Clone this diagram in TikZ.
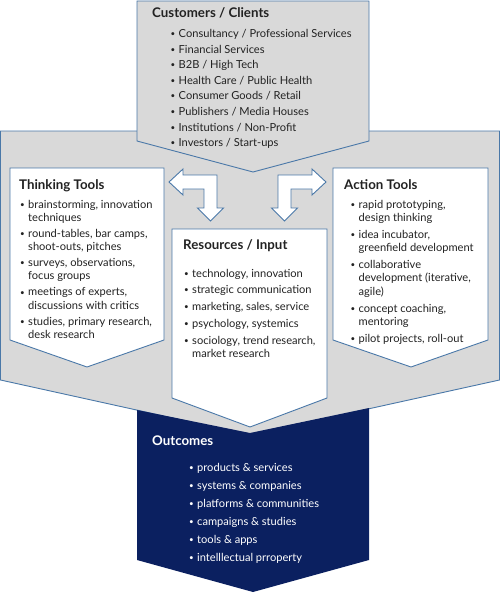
\documentclass[tikz,border=0pt]{standalone}
\usepackage{fontspec}
\setmainfont{Lato}
\definecolor{boxgray}{HTML}{D9D9D9}
\definecolor{edgeblue}{HTML}{4A78A8}
\definecolor{navy}{HTML}{0B2060}
\definecolor{txt}{HTML}{222222}
\newcommand{\bl}{\raisebox{0.9pt}{\fontsize{8}{8}\selectfont\textbullet}}
\newcommand{\rows}[1]{\begin{tabular}[t]{@{}p{8pt}@{}l@{}}#1\end{tabular}}

\begin{document}
\begin{tikzpicture}[
  x=1pt, y=-1pt,
  panel/.style={fill=boxgray,draw=edgeblue,line width=0.9pt},
  card/.style={fill=white,draw=edgeblue,line width=0.9pt},
  blk/.style={fill=white,draw=edgeblue,line width=0.9pt},
  ttl/.style={font=\fontsize{13.3}{15}\selectfont\bfseries,text=txt,inner sep=0pt,anchor=base west},
  lst/.style={font=\fontsize{11.1}{13.3}\selectfont,text=txt,inner sep=0pt,anchor=base west},
]
  \useasboundingbox (0,0) rectangle (500,594);

  % big grey band and the top chevron
  \draw[panel] (0.5,131) -- (499.5,131) -- (499.5,380) -- (250,435) -- (0.5,380) -- cycle;
  \draw[panel] (137,1) -- (369,1) -- (369,141) -- (253,172) -- (137,141) -- cycle;
  \fill[navy] (137,410) -- (250,433) -- (369,408) -- (369,560) -- (253,592) -- (137,560) -- cycle;

  % white cards
  \draw[card] (10,168) -- (164,168) -- (164,340) -- (87,367) -- (10,340) -- cycle;
  \draw[card] (333,168) -- (488,168) -- (488,340) -- (411,367) -- (333,340) -- cycle;
  \draw[card] (172,229) -- (327,229) -- (327,398) -- (250,427) -- (172,398) -- cycle;

  % bent block arrows
  \foreach \sx/\cx in {1/284.5,-1/210.5}{
    \begin{scope}[shift={(\cx,182)},xscale=\sx]
      \draw[blk] (-6.5,-7) -- (27.5,-7) -- (27.5,-13) -- (41.5,0) -- (27.5,13) -- (27.5,7)
        -- (6.5,7) -- (6.5,26) -- (13,26) -- (0,39) -- (-13,26) -- (-6.5,26) -- cycle;
    \end{scope}
  }

  \node[ttl] (CT) at (152,18) {Customers / Clients};
  \node[lst] (CL) at (170.5,37.5) {\rows{%
    \bl & Consultancy / Professional Services\\[2.3pt]
    \bl & Financial Services\\[2.3pt]
    \bl & B2B / High Tech\\[2.3pt]
    \bl & Health Care / Public Health\\[2.3pt]
    \bl & Consumer Goods / Retail\\[2.3pt]
    \bl & Publishers / Media Houses\\[2.3pt]
    \bl & Institutions / Non-Profit\\[2.3pt]
    \bl & Investors / Start-ups}};

  \node[ttl] (TT) at (19,189.5) {Thinking Tools};
  \node[lst] (TL) at (20,208) {\rows{%
    \bl & brainstorming, innovation\\
        & techniques\\[2.7pt]
    \bl & round-tables, bar camps,\\
        & shoot-outs, pitches\\[2.7pt]
    \bl & surveys, observations,\\
        & focus groups\\[2.7pt]
    \bl & meetings of experts,\\
        & discussions with critics\\[2.7pt]
    \bl & studies, primary research,\\
        & desk research}};

  \node[ttl] (AT) at (344,189.5) {Action Tools};
  \node[lst] (AL) at (350.5,208) {\rows{%
    \bl & rapid prototyping,\\
        & design thinking\\[3.7pt]
    \bl & idea incubator,\\
        & greenfield development\\[3.7pt]
    \bl & collaborative\\
        & development (iterative,\\
        & agile)\\[3.7pt]
    \bl & concept coaching,\\
        & mentoring\\[3.7pt]
    \bl & pilot projects, roll-out}};

  \node[ttl] (RT) at (183,249) {Resources / Input};
  \node[lst] (RL) at (184,277) {\rows{%
    \bl & technology, innovation\\[3.5pt]
    \bl & strategic communication\\[3.5pt]
    \bl & marketing, sales, service\\[3.5pt]
    \bl & psychology, systemics\\[3.5pt]
    \bl & sociology, trend research,\\
        & market research}};

  \node[ttl,text=white] (OT) at (152,445) {Outcomes};
  \node[lst,text=white] (OL) at (189,471) {\rows{%
    \bl & products \& services\\[4.7pt]
    \bl & systems \& companies\\[4.7pt]
    \bl & platforms \& communities\\[4.7pt]
    \bl & campaigns \& studies\\[4.7pt]
    \bl & tools \& apps\\[4.7pt]
    \bl & intelllectual prroperty}};
\end{tikzpicture}
\end{document}
